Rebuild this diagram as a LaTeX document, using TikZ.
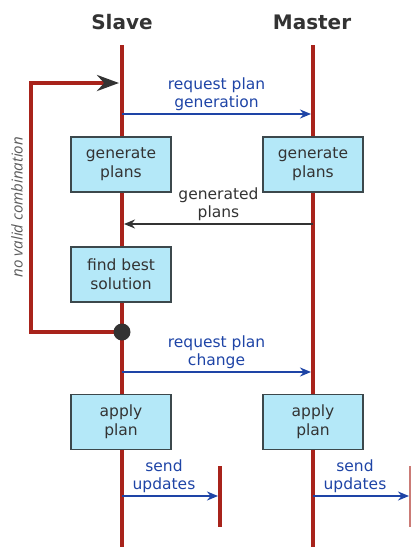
\documentclass[tikz,border=0pt]{standalone}
\usepackage{fontspec}
\setmainfont{DejaVu Sans}
\newfontfamily\notefont{Open Sans}
\usetikzlibrary{arrows.meta}

\definecolor{lifered}{HTML}{A8231B}
\definecolor{boxfill}{HTML}{B4E8F8}
\definecolor{boxline}{HTML}{3C484C}
\definecolor{msgblue}{HTML}{1E44A6}
\definecolor{textgray}{HTML}{333333}

\begin{document}
\begin{tikzpicture}[x=1pt,y=-1pt,
    lifeline/.style={draw=lifered, line width=4pt},
    actor/.style={font=\bfseries\fontsize{20}{23}\selectfont, text=textgray},
    stepbox/.style={draw=boxline, line width=1.6pt, fill=boxfill, text=textgray,
      minimum width=100pt, minimum height=55pt, align=center,
      font=\fontsize{15.5}{19}\selectfont},
    msg/.style={draw=msgblue, line width=1.8pt, -{Stealth[length=11pt,width=9pt]}},
    reply/.style={draw=textgray, line width=1.8pt, -{Stealth[length=11pt,width=9pt]}},
    msglabel/.style={above, align=center, inner sep=2pt,
      font=\fontsize{15.5}{18}\selectfont}]
    \useasboundingbox (0,0) rectangle (411,547);
    % actors
    \node[actor] (slave) at (122,22) {Slave};
    \node[actor] (master) at (312,22) {Master};
    \coordinate (slavetop) at (122,45);
    \coordinate (slavebot) at (122,547);
    \coordinate (mastertop) at (313,45);
    \coordinate (masterbot) at (313,547);
    \draw[lifeline] (slavetop) -- (slavebot);
    \draw[lifeline] (mastertop) -- (masterbot);
    % short lifelines for the updates
    \coordinate (updtop1) at (220,466);
    \coordinate (updbot1) at (220,527);
    \coordinate (updtop2) at (410,466);
    \coordinate (updbot2) at (410,527);
    \draw[lifeline, line width=3.5pt] (updtop1) -- (updbot1);
    \draw[draw=lifered!60, line width=1.5pt] (updtop2) -- (updbot2);
    % loop back
    \coordinate (loopin) at (119,83);
    \coordinate (loopout) at (122,332);
    \draw[lifeline, line join=miter,
      -{Stealth[length=22pt,width=16pt,color=textgray]}]
      (loopout) -- (31,332) -- (31,83) -- (loopin);
    \fill[textgray] (loopout) circle (8.5);
    \node[rotate=90, text=textgray!80, font=\notefont\itshape\fontsize{15}{17}\selectfont]
      (nocomb) at (17,207) {no valid combination};
    % steps
    \node[stepbox] (gens) at (121,164.5) {generate\\plans};
    \node[stepbox] (genm) at (313,164.5) {generate\\plans};
    \node[stepbox] (best) at (121,274.5) {find best\\solution};
    \node[stepbox] (apps) at (121,422) {apply\\plan};
    \node[stepbox] (appm) at (313,422) {apply\\plan};
    % messages
    \coordinate (s1) at (122,114);
    \coordinate (m1) at (311,114);
    \draw[msg] (s1) -- (m1) node[msglabel, midway, text=msgblue] {request plan\\generation};
    \coordinate (m2) at (313,224);
    \coordinate (s2) at (124,224);
    \draw[reply] (m2) -- (s2) node[msglabel, midway, text=textgray] {generated\\plans};
    \coordinate (s3) at (122,372);
    \coordinate (m3) at (311,372);
    \draw[msg] (s3) -- (m3) node[msglabel, midway, text=msgblue] {request plan\\change};
    \coordinate (s4) at (122,496);
    \coordinate (u1) at (218,496);
    \draw[msg] (s4) -- (u1) node[msglabel, midway, xshift=-6pt, text=msgblue] {send\\updates};
    \coordinate (m4) at (313,496);
    \coordinate (u2) at (409,496);
    \draw[msg] (m4) -- (u2) node[msglabel, midway, xshift=-6pt, text=msgblue] {send\\updates};
\end{tikzpicture}
\end{document}
